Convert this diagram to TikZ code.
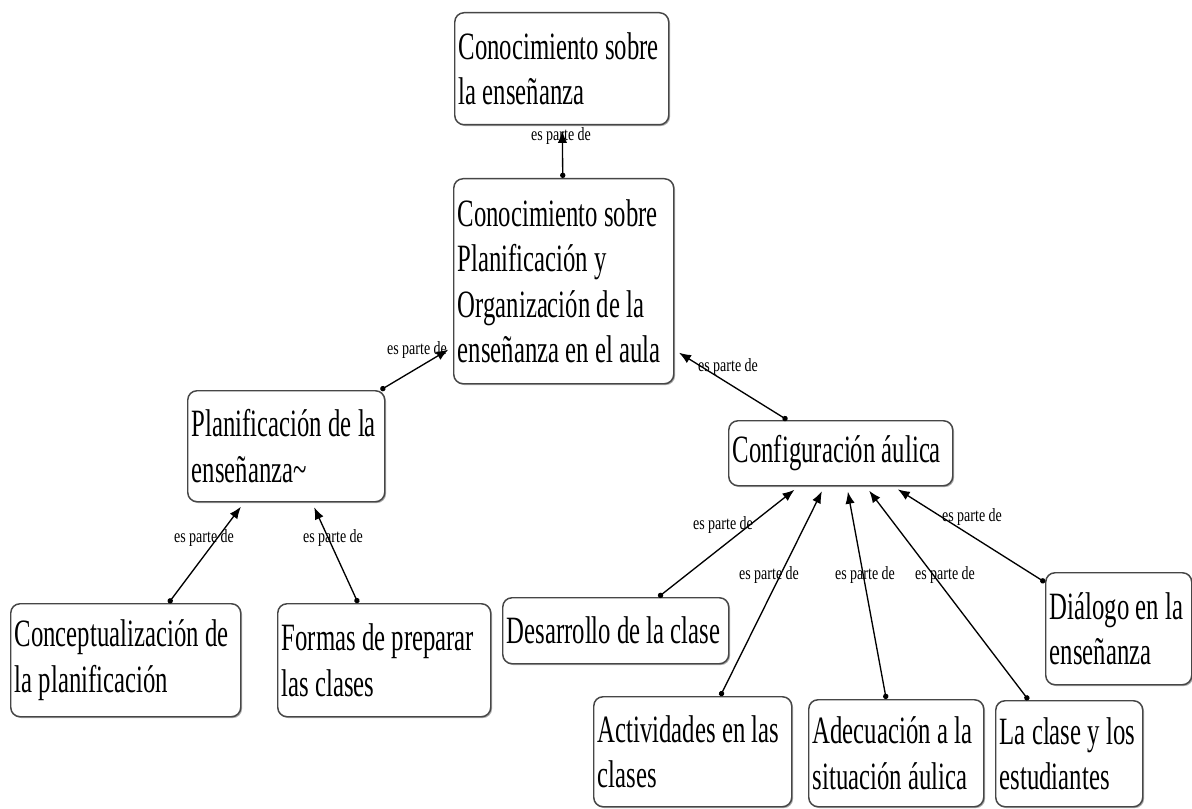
\documentclass[tikz,border=0pt]{standalone}
\usepackage{fontspec}
\setmainfont{Liberation Serif}[FakeStretch=0.64]
\newfontfamily\linkfont{Liberation Serif}[FakeStretch=0.75]
\usetikzlibrary{arrows.meta,shadows}

\tikzset{
  concept/.style={draw={rgb, 255:red, 70; green, 70; blue, 70}, line width=1.1pt, rounded corners=7pt,
    fill=white, anchor=north west, inner xsep=3pt, inner ysep=0pt, align=flush left,
    font=\fontsize{29}{34}\selectfont,
    drop shadow={shadow xshift=1pt, shadow yshift=-1pt, fill=black, opacity=0.35}},
  link/.style={inner sep=0pt, font=\linkfont\fontsize{14}{15}\selectfont},
  partof/.style={line width=1pt, {Circle[length=4pt]}-{Latex[length=9pt,width=7pt]}, shorten >=4pt}
}

\begin{document}
\begin{tikzpicture}[x=0.75pt,y=-0.75pt]
\useasboundingbox (0,0) rectangle (1192,809);

% Concepts
\node[concept, minimum width=160.5pt, text width=154.5pt, minimum height=84pt] (ensenanza) at (454,12) {Conocimiento sobre\\la enseñanza};
\node[concept, minimum width=165pt, text width=159pt, minimum height=153.75pt] (planorg) at (453,178) {Conocimiento sobre\\Planificación y\\Organización de la\\enseñanza en el aula};
\node[concept, minimum width=147.75pt, text width=141.75pt, minimum height=83.25pt] (planif) at (187,390) {Planificación de la\\enseñanza\textasciitilde};
\node[concept, minimum width=168pt, text width=162pt, minimum height=48.75pt] (config) at (728,420) {Configuración áulica};
\node[concept, minimum width=172.5pt, text width=166.5pt, minimum height=84.75pt] (concept) at (10,603) {Conceptualización de\\la planificación};
\node[concept, minimum width=159.75pt, text width=153.75pt, minimum height=84.75pt] (formas) at (277,603) {Formas de preparar\\las clases};
\node[concept, minimum width=169.5pt, text width=163.5pt, minimum height=49.5pt] (desarrollo) at (502,597) {Desarrollo de la clase};
\node[concept, minimum width=148.5pt, text width=142.5pt, minimum height=82.5pt] (actividades) at (593,696) {Actividades en las\\clases};
\node[concept, minimum width=131.25pt, text width=125.25pt, minimum height=80.25pt] (adecuacion) at (808,699) {Adecuación a la\\situación áulica};
\node[concept, minimum width=110.25pt, text width=104.25pt, minimum height=79.5pt] (clase) at (995,700) {La clase y los\\estudiantes};
\node[concept, minimum width=109.5pt, text width=103.5pt, minimum height=84pt] (dialogo) at (1045,572) {Diálogo en la\\enseñanza};

% Links
\draw[partof] (planorg) -- (ensenanza);
\draw[partof] (planif) -- (planorg);
\draw[partof] (config) -- (planorg);
\draw[partof] (concept) -- (planif);
\draw[partof] (formas) -- (planif);
\draw[partof] (desarrollo) -- (config);
\draw[partof] (actividades) -- (config);
\draw[partof] (adecuacion) -- (config);
\draw[partof] (clase) -- (config);
\draw[partof] (dialogo) -- (config);

% Link labels
\node[link] (l1) at (561,136) {es parte de};
\node[link] (l2) at (417,350) {es parte de};
\node[link] (l3) at (728,367) {es parte de};
\node[link] (l4) at (204,538) {es parte de};
\node[link] (l5) at (333,538) {es parte de};
\node[link] (l6) at (723,525) {es parte de};
\node[link] (l7) at (769,575) {es parte de};
\node[link] (l8) at (865,575) {es parte de};
\node[link] (l9) at (945,575) {es parte de};
\node[link] (l10) at (972,517) {es parte de};

\end{tikzpicture}
\end{document}
